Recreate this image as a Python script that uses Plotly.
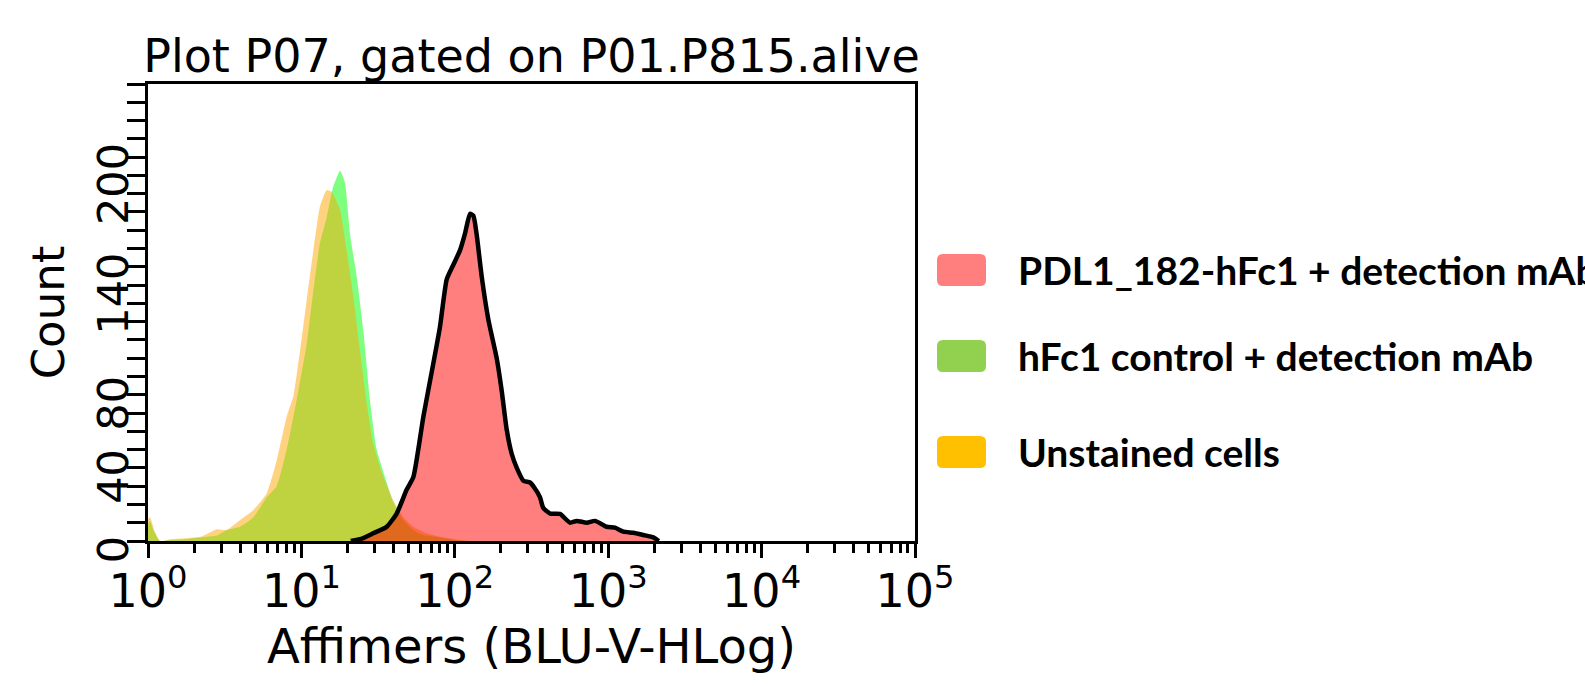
import plotly.graph_objects as go

# ---------------- data ----------------
hfc1_x = [1.0, 1.03, 1.096, 1.197, 1.413, 1.778, 2.239, 2.818, 3.258, 3.981, 4.864, 5.943,
          6.902, 8.017, 9.311, 10.84, 11.97, 13.21, 14.62, 16.14, 17.86, 19.23, 20.75, 22.91,
          25.35, 27.99, 30.97, 35.97, 39.81, 46.24, 53.70, 62.37, 79.98, 100.0, 125.9]
hfc1_y = [9, 11, 5, 0, 0.5, 1, 2, 3, 6, 7.8, 13, 24,
          30, 50, 77, 108, 137, 163, 177, 194, 202.6, 196, 168, 145,
          115, 77, 50, 32, 21, 11.5, 6, 3.3, 2, 0.5, 0]

unst_x = [1.0, 1.03, 1.109, 1.197, 1.413, 1.778, 2.239, 2.805, 3.258, 3.981, 4.864, 5.943,
          6.902, 8.017, 8.851, 9.795, 10.84, 11.97, 13.21, 14.62, 15.74, 17.86, 19.72, 21.78,
          24.10, 26.67, 29.44, 34.20, 39.81, 46.24, 53.70, 65.61, 79.98, 100.0, 125.9]
unst_y = [12, 13, 5, 0, 1, 1.5, 2.5, 6.4, 6, 11.5, 17, 26,
          44, 68, 79, 104, 132, 159, 183, 192, 191, 181, 159, 134,
          104, 75, 53, 35, 22, 13, 7.8, 4.2, 2.3, 1, 0]

pdl1_x = [21.0, 25.1, 29.4, 36.0, 41.8, 48.5, 53.7, 62.4, 72.4, 80.0, 88.5, 97.7,
          108.1, 116.4, 125.6, 132.1, 138.7, 149.6, 165.6, 187.5, 202.3, 217.8, 234.4, 253.5,
          279.9, 309.0, 331.1, 358.9, 377.6, 417.8, 485.3, 563.6, 623.7, 724.4, 820.4, 977.2,
          1106.6, 1256.2, 1458.8, 1694.3, 1967.9, 2138.0]
pdl1_y = [0, 1.5, 4.2, 7.8, 15, 28, 35, 68, 97, 117, 143, 151,
          159, 168, 179, 178, 168, 145, 121, 100, 82, 61, 48, 40,
          33, 32, 29, 24, 18, 15, 14.8, 10, 11, 10, 11, 7.8,
          7.3, 5.1, 4.5, 3.3, 2, 0]

legend_labels = ["PDL1_182-hFc1 + detection mAb", "hFc1 control + detection mAb", "Unstained cells"]
legend_colors = ["#FF7F7F", "#92D050", "#FFC000"]

x_tickvals = [1, 10, 100, 1000, 10000, 100000]
x_ticktext = ["10<sup>0</sup>", "10<sup>1</sup>", "10<sup>2</sup>", "10<sup>3</sup>",
              "10<sup>4</sup>", "10<sup>5</sup>"]
y_tickvals = [0, 40, 80, 140, 200]
y_ticktext = ["0", "40", "80", "140", "200"]

title_text = "Plot P07, gated on P01.P815.alive"
x_title = "Affimers (BLU-V-HLog)"
y_title = "Count"

# ---------------- layout geometry ----------------
W, H = 1585, 686
L, R, T, B = 148, 915, 84, 541
FONT = "DejaVu Sans"

def pxx(p):
    return (p - L) / (R - L)

def pxy(p):
    return (B - p) / (B - T)

fig = go.Figure()
fig.add_trace(go.Scatter(x=hfc1_x, y=hfc1_y, mode="lines", fill="tozeroy",
                         fillcolor="rgba(0,255,0,0.5)", line=dict(width=0, shape="spline", smoothing=0.5),
                         name=legend_labels[1], showlegend=False, hoverinfo="x+y"))
fig.add_trace(go.Scatter(x=unst_x, y=unst_y, mode="lines", fill="tozeroy",
                         fillcolor="rgba(255,165,0,0.5)", line=dict(width=0, shape="spline", smoothing=0.5),
                         name=legend_labels[2], showlegend=False, hoverinfo="x+y"))
fig.add_trace(go.Scatter(x=pdl1_x, y=pdl1_y, mode="lines", fill="tozeroy",
                         fillcolor="rgba(255,0,0,0.5)",
                         line=dict(width=4.5, color="black", shape="spline", smoothing=0.5),
                         name=legend_labels[0], showlegend=False, hoverinfo="x+y"))

# minor tick positions (log sub-decades / every 10 counts)
x_minor = [m * 10 ** d for d in range(5) for m in range(2, 10)]
y_minor = list(range(0, 251, 10))

fig.update_xaxes(type="log", range=[0, 5], showline=True, mirror=True, linewidth=3, linecolor="black",
                 showgrid=False, zeroline=False, automargin=False,
                 tickmode="array", tickvals=x_tickvals, ticktext=x_ticktext,
                 ticks="outside", ticklen=14, tickwidth=3, tickcolor="black",
                 ticklabelstandoff=-6,
                 tickfont=dict(family=FONT, size=46, color="black"),
                 minor=dict(tickmode="array", tickvals=x_minor, ticks="outside", ticklen=9,
                            tickwidth=2.5, tickcolor="black", showgrid=False),
                 title=dict(text=x_title, font=dict(family=FONT, size=48, color="black"), standoff=5))
fig.update_yaxes(range=[0, 250], showline=True, mirror=True, linewidth=3, linecolor="black",
                 showgrid=False, zeroline=False, automargin=False,
                 tickmode="array", tickvals=y_tickvals, ticktext=y_ticktext, tickangle=-90,
                 ticks="outside", ticklen=18, tickwidth=2.5, tickcolor="black",
                 ticklabelstandoff=-18, ticklabelshift=15,
                 tickfont=dict(family=FONT, size=43, color="black"),
                 minor=dict(tickmode="array", tickvals=y_minor, ticks="outside", ticklen=18,
                            tickwidth=2.5, tickcolor="black", showgrid=False),
                 title=dict(text=y_title, font=dict(family=FONT, size=45, color="black"), standoff=10))

# manual legend: rounded swatches + text
row_centers = [270, 356, 452]
sw_x0, sw_x1, sw_h, rad = 937, 986, 32, 6
shapes = []
annotations = []
for lab, col, cy in zip(legend_labels, legend_colors, row_centers):
    x0, x1 = sw_x0, sw_x1
    y0, y1 = cy - sw_h / 2, cy + sw_h / 2
    pts = [
        f"M {pxx(x0 + rad)},{pxy(y0)}",
        f"L {pxx(x1 - rad)},{pxy(y0)}",
        f"Q {pxx(x1)},{pxy(y0)} {pxx(x1)},{pxy(y0 + rad)}",
        f"L {pxx(x1)},{pxy(y1 - rad)}",
        f"Q {pxx(x1)},{pxy(y1)} {pxx(x1 - rad)},{pxy(y1)}",
        f"L {pxx(x0 + rad)},{pxy(y1)}",
        f"Q {pxx(x0)},{pxy(y1)} {pxx(x0)},{pxy(y1 - rad)}",
        f"L {pxx(x0)},{pxy(y0 + rad)}",
        f"Q {pxx(x0)},{pxy(y0)} {pxx(x0 + rad)},{pxy(y0)}",
        "Z",
    ]
    shapes.append(dict(type="path", xref="paper", yref="paper", path=" ".join(pts),
                       fillcolor=col, line=dict(width=0), layer="above"))
    annotations.append(dict(xref="paper", yref="paper", x=pxx(1016), y=pxy(cy),
                            xanchor="left", yanchor="middle", showarrow=False,
                            text=f"<b>{lab}</b>",
                            font=dict(family="Lato", size=39, color="black")))

fig.update_layout(
    width=W, height=H, autosize=False,
    margin=dict(l=L, r=W - R, t=T, b=H - B, pad=0),
    paper_bgcolor="white", plot_bgcolor="white",
    title=dict(text=title_text, x=0.5, xref="paper", xanchor="center",
               y=1 - 56 / H, yref="container", yanchor="middle",
               font=dict(family=FONT, size=46, color="black")),
    shapes=shapes, annotations=annotations,
    showlegend=False,
)

fig.write_html("out.html", config={"displayModeBar": False},
               post_script="document.body.style.margin='0px';document.body.style.overflow='hidden';")
